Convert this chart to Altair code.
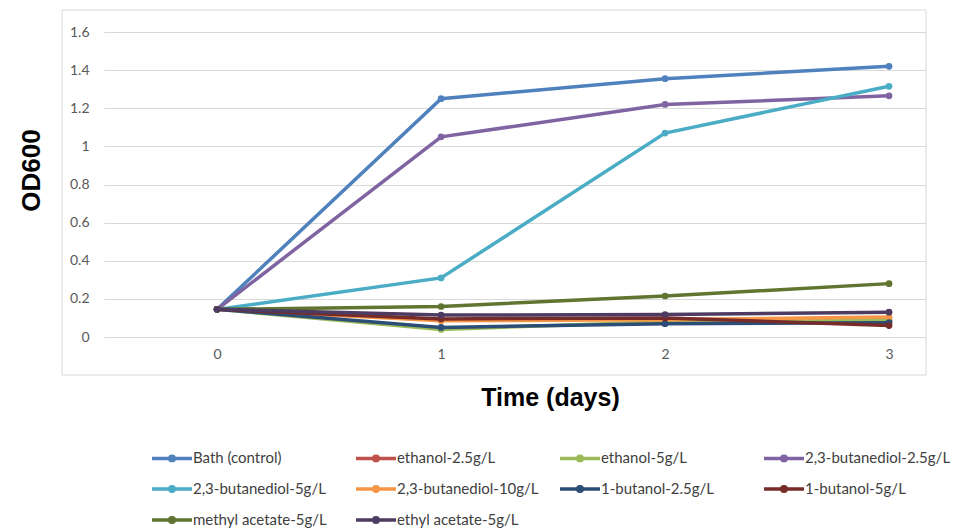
import altair as alt
import pandas as pd

days = [0, 1, 2, 3]
series_names = [
    "Bath (control)", "ethanol-2.5g/L", "ethanol-5g/L", "2,3-butanediol-2.5g/L",
    "2,3-butanediol-5g/L", "2,3-butanediol-10g/L", "1-butanol-2.5g/L", "1-butanol-5g/L",
    "methyl acetate-5g/L", "ethyl acetate-5g/L",
]
bath = [0.145, 1.25, 1.355, 1.42]
ethanol_25 = [0.145, 0.09, 0.095, 0.085]
ethanol_5 = [0.145, 0.04, 0.08, 0.09]
bd_25 = [0.145, 1.05, 1.22, 1.265]
bd_5 = [0.145, 0.31, 1.07, 1.315]
bd_10 = [0.145, 0.085, 0.09, 0.105]
butanol_25 = [0.145, 0.05, 0.07, 0.075]
butanol_5 = [0.145, 0.095, 0.1, 0.06]
methyl_acetate = [0.145, 0.16, 0.215, 0.28]
ethyl_acetate = [0.145, 0.115, 0.118, 0.13]
all_values = [bath, ethanol_25, ethanol_5, bd_25, bd_5, bd_10, butanol_25, butanol_5,
              methyl_acetate, ethyl_acetate]
colors = ["#4F81BD", "#C0504D", "#9BBB59", "#8064A2", "#4BACC6", "#F79646",
          "#2C4D75", "#772C2A", "#5F7530", "#4D3B62"]
y_ticks = [0, 0.2, 0.4, 0.6, 0.8, 1.0, 1.2, 1.4, 1.6]

rows = []
for name, vals in zip(series_names, all_values):
    for d, v in zip(days, vals):
        rows.append({"series": name, "day": d, "od": v})
df = pd.DataFrame(rows)

color_scale = alt.Scale(domain=series_names, range=colors)
sym = "M-1.43,0L1.43,0M0.16,0A0.16,0.16,0,1,1,-0.16,0A0.16,0.16,0,1,1,0.16,0"

legend = alt.Legend(
    title=None, orient="none", legendX=52, legendY=410, columns=4, direction="horizontal",
    gridAlign="all", columnPadding=9, rowPadding=5, padding=0,
    symbolType=sym, symbolSize=784, symbolStrokeWidth=3.5, labelOffset=5,
    labelFont="Lato", labelFontSize=15, labelColor="#404040", labelLimit=300,
)

x_enc = alt.X("day:Q", scale=alt.Scale(domain=[-0.505, 3.165], nice=False, zero=False),
              axis=alt.Axis(values=days, format="d", title="Time (days)", grid=False,
                            domain=False, ticks=False, labelPadding=10, labelFont="Lato",
                            labelFontSize=14, labelColor="#595959",
                            titleFont="Liberation Sans", titleFontSize=25,
                            titleFontWeight="bold", titleColor="#000000",
                            titleX=446, titleY=60, titleBaseline="middle",
                            titleAlign="center"))
y_enc = alt.Y("od:Q", scale=alt.Scale(domain=[0, 1.6], nice=False),
              axis=alt.Axis(values=y_ticks, format="~g", title="OD600", grid=True,
                            gridColor="#d9d9d9", gridWidth=1, domain=False, ticks=False,
                            labelPadding=15, labelFont="Lato", labelFontSize=14,
                            labelColor="#595959", titleFont="Liberation Sans",
                            titleFontSize=26, titleFontWeight="bold", titleColor="#000000",
                            titleAngle=270, titleX=-73, titleY=138,
                            titleBaseline="middle", titleAlign="center"))

layers = []
frame = alt.Chart(pd.DataFrame({"k": [0]})).mark_rect(
    fill=None, stroke="#d9d9d9", strokeWidth=1
).encode(x=alt.value(-42), x2=alt.value(822), y=alt.value(-22), y2=alt.value(343))
layers.append(frame)

for name in series_names:
    layers.append(
        alt.Chart(df).transform_filter(alt.datum.series == name).mark_line(
            strokeWidth=3.5,
            point=alt.OverlayMarkDef(filled=True, size=45, opacity=1),
        ).encode(
            x=x_enc, y=y_enc,
            color=alt.Color("series:N", scale=color_scale, legend=legend),
        )
    )

chart = alt.layer(*layers).properties(
    width=822, height=305,
    autosize=alt.AutoSizeParams(type="none"),
    padding={"left": 96, "top": 24, "right": 29, "bottom": 191},
).configure_view(stroke=None)

chart.save("out.html", embed_options={"renderer": "svg", "actions": False})
